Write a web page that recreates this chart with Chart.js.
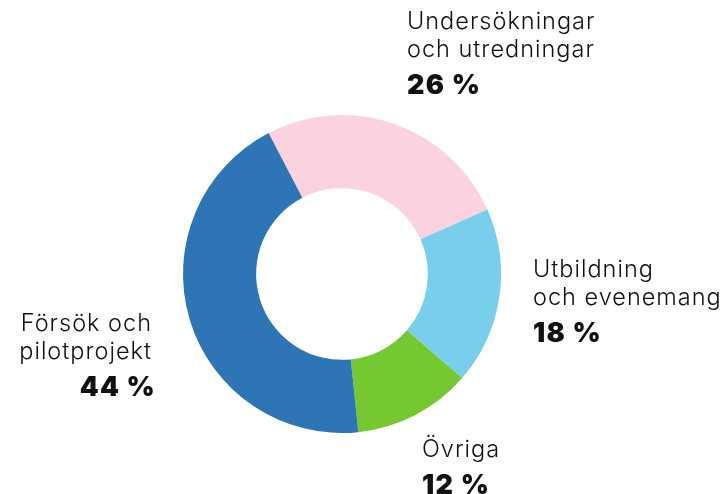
<!DOCTYPE html>
<html>
<head>
<meta charset="utf-8">
<script src="https://cdn.jsdelivr.net/npm/chart.js@4"></script>
<style>
  html, body { margin: 0; padding: 0; background: #fff; }
  #wrap { width: 722px; height: 494px; }
</style>
</head>
<body>
<div id="wrap"><canvas id="donut" width="722" height="494"></canvas></div>
<script>
const categories = [
    ["Undersökningar", "och utredningar"],
    ["Utbildning", "och evenemang"],
    ["Övriga"],
    ["Försök och", "pilotprojekt"]
];
const values = [26, 18, 12, 44];
const colors = ["#fbd2dd", "#79cfeb", "#75c832", "#2e75b5"];

// where each label block sits (x, y of first line, text alignment)
const labelPos = [
    { x: 407, y: 22, align: "left" },
    { x: 533, y: 270, align: "left" },
    { x: 422, y: 450, align: "left" },
    { x: 152, y: 324, align: "right" }
];

const labelPlugin = {
    id: "labels",
    afterDraw(chart) {
        const ctx = chart.ctx;
        ctx.save();
        ctx.fillStyle = "#111";
        ctx.textBaseline = "middle";
        categories.forEach((lines, i) => {
            const p = labelPos[i];
            ctx.textAlign = p.align;
            ctx.font = "300 23.5px Inter";
            ctx.letterSpacing = "1px";
            lines.forEach((line, j) => {
                ctx.fillText(line, p.x, p.y + j * 28);
            });
            ctx.font = "900 27px Inter";
            ctx.letterSpacing = "1.2px";
            const pct = values[i] + " %";
            ctx.fillText(pct, p.align === "right" ? p.x + 4 : p.x, p.y + (lines.length - 1) * 28 + 36);
        });
        ctx.restore();
    }
};

new Chart(document.getElementById("donut"), {
    type: "doughnut",
    data: {
        labels: categories.map(c => c.join(" ")),
        datasets: [{
            data: values,
            backgroundColor: colors,
            borderWidth: 0
        }]
    },
    options: {
        responsive: false,
        animation: false,
        rotation: -27.5,
        cutout: "54%",
        layout: { padding: { top: 115, bottom: 61, left: 183, right: 221 } },
        plugins: {
            legend: { display: false },
            tooltip: { enabled: false }
        }
    },
    plugins: [labelPlugin]
});
</script>
</body>
</html>
